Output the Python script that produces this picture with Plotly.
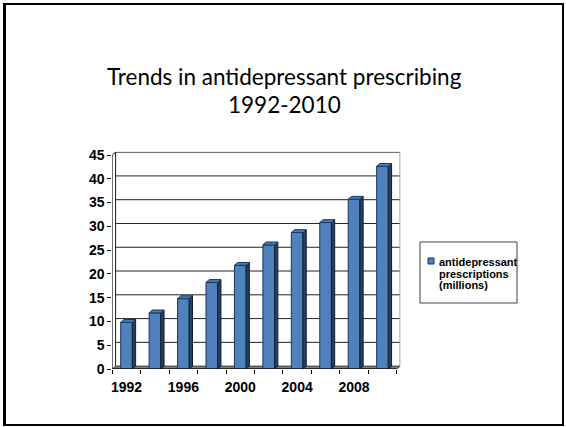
import plotly.graph_objects as go

# Annual antidepressant prescriptions (millions), every other year
years = [1992, 1994, 1996, 1998, 2000, 2002, 2004, 2006, 2008, 2010]
prescriptions = [9.8, 11.8, 14.8, 18.2, 21.8, 26.1, 28.7, 30.8, 35.7, 42.6]
label_years = [1992, 1996, 2000, 2004, 2008]
y_ticks = [0, 5, 10, 15, 20, 25, 30, 35, 40, 45]

series_name = "antidepressant prescriptions (millions)"
title_lines = ["Trends in antidepressant prescribing", "1992-2010"]

W, H = 566, 427
FRONT = "#4F81BD"
SIDE = "#243F63"
EDGE = "#17375E"

BAR_W = 0.82      # bar width in years
DEPTH_X = 0.23    # 3-D depth offset (years)
DEPTH_Y = 0.6     # 3-D depth offset (millions)
x_lo, x_hi = years[0] - 1, years[-1] + 1
y_top = y_ticks[-1]


def px(x, y):
    """pixel position -> paper coordinates"""
    return x / W, 1 - y / H


fig = go.Figure()

# front faces
fig.add_trace(go.Bar(
    x=years, y=prescriptions, width=BAR_W,
    marker=dict(color=FRONT, line=dict(color=EDGE, width=1)),
    showlegend=False, hoverinfo="skip",
))

# side faces and caps of the 3-D bars
side_x, side_y, top_x, top_y = [], [], [], []
for yr, v in zip(years, prescriptions):
    x0, x1 = yr - BAR_W / 2, yr + BAR_W / 2
    side_x += [x1, x1, x1 + DEPTH_X, x1 + DEPTH_X, x1, None]
    side_y += [0, v, v + DEPTH_Y, DEPTH_Y, 0, None]
    top_x += [x0, x1, x1 + DEPTH_X, x0 + DEPTH_X, x0, None]
    top_y += [v, v, v + DEPTH_Y, v + DEPTH_Y, v, None]

fig.add_trace(go.Scatter(
    x=side_x, y=side_y, mode="lines", fill="toself", fillcolor=SIDE,
    line=dict(color="#111E30", width=1), showlegend=False, hoverinfo="skip",
))
fig.add_trace(go.Scatter(
    x=top_x, y=top_y, mode="lines", fill="toself", fillcolor="#4A7AB5",
    line=dict(color=EDGE, width=1), showlegend=False, hoverinfo="skip",
))

shapes = []
# back wall gridlines
for t in y_ticks[1:]:
    shapes.append(dict(type="line", xref="x", yref="y", layer="below",
                       x0=x_lo + DEPTH_X, x1=x_hi + DEPTH_X,
                       y0=t + DEPTH_Y, y1=t + DEPTH_Y,
                       line=dict(color="#222222", width=1)))
# back wall edges
shapes.append(dict(type="line", xref="x", yref="y", layer="below",
                   x0=x_lo + DEPTH_X, x1=x_lo + DEPTH_X, y0=DEPTH_Y, y1=y_top + DEPTH_Y,
                   line=dict(color="#222222", width=1)))
shapes.append(dict(type="line", xref="x", yref="y", layer="below",
                   x0=x_hi + DEPTH_X, x1=x_hi + DEPTH_X, y0=DEPTH_Y, y1=y_top + DEPTH_Y,
                   line=dict(color="#9A9A9A", width=1)))
# floor
shapes.append(dict(type="path", xref="x", yref="y", layer="below",
                   path=f"M {x_lo},0 L {x_hi},0 L {x_hi + DEPTH_X},{DEPTH_Y} "
                        f"L {x_lo + DEPTH_X},{DEPTH_Y} Z",
                   fillcolor="#7F7F7F", line=dict(color="#333333", width=1)))
# front axes
shapes.append(dict(type="line", xref="x", yref="y", layer="above",
                   x0=x_lo, x1=x_lo, y0=0, y1=y_top,
                   line=dict(color="black", width=1)))
shapes.append(dict(type="line", xref="x", yref="y", layer="above",
                   x0=x_lo, x1=x_lo + DEPTH_X, y0=y_top, y1=y_top + DEPTH_Y,
                   line=dict(color="black", width=1)))
shapes.append(dict(type="line", xref="x", yref="y", layer="above",
                   x0=x_lo, x1=x_hi, y0=0, y1=0,
                   line=dict(color="black", width=1)))

# slide frame (heavier on the left)
fx0, fy0 = px(4, 4)
fx1, fy1 = px(563, 425)
shapes.append(dict(type="rect", xref="paper", yref="paper",
                   x0=fx0, y0=fy1, x1=fx1, y1=fy0,
                   line=dict(color="black", width=2)))
ex, _ = px(4.5, 0)
shapes.append(dict(type="line", xref="paper", yref="paper",
                   x0=ex, x1=ex, y0=fy1, y1=fy0,
                   line=dict(color="black", width=3)))

# legend box and swatch
lx0, ly0 = px(420, 242)
lx1, ly1 = px(517, 303)
shapes.append(dict(type="rect", xref="paper", yref="paper",
                   x0=lx0, y0=ly1, x1=lx1, y1=ly0,
                   line=dict(color="#404040", width=1), fillcolor="white"))
sx0, sy0 = px(428, 258)
sx1, sy1 = px(434, 264)
shapes.append(dict(type="rect", xref="paper", yref="paper",
                   x0=sx0, y0=sy1, x1=sx1, y1=sy0,
                   line=dict(color=EDGE, width=1), fillcolor=FRONT))

annotations = []
legend_words = ["antidepressant", "prescriptions", "(millions)"]
for word, yc in zip(legend_words, [261.5, 273.5, 285.0]):
    ax, ay = px(436.5, yc)
    annotations.append(dict(
        x=ax, y=ay, xref="paper", yref="paper", text=word, showarrow=False,
        xanchor="left", yanchor="middle",
        font=dict(family="Liberation Sans, Arial", size=11, color="black", weight="bold"),
    ))

for line, yc in zip(title_lines, [77, 104]):
    ax, ay = px(284, yc)
    annotations.append(dict(
        x=ax, y=ay, xref="paper", yref="paper", text=line, showarrow=False,
        xanchor="center", yanchor="middle",
        font=dict(family="Lato, Carlito, Calibri, sans-serif", size=22.5, color="black"),
    ))

# plot area: front axis at x=112.3 px, floor front at y=369 px
px_per_year = (396.7 - 112.3) / (x_hi - x_lo)
px_per_unit = (369.0 - 155.0) / y_top
x_range = [x_lo, x_hi + DEPTH_X + 0.05]
y_range = [0, y_top + DEPTH_Y + 0.1]
left_px = 112.3
right_px = left_px + (x_range[1] - x_range[0]) * px_per_year
bottom_px = 369.0
top_px = bottom_px - (y_range[1] - y_range[0]) * px_per_unit

tick_font = dict(family="Liberation Sans, Arial", size=14, color="black", weight="bold")
boundaries = [yr - 1 for yr in years] + [years[-1] + 1]

fig.update_layout(
    width=W, height=H,
    margin=dict(l=0, r=0, t=0, b=0, autoexpand=False),
    paper_bgcolor="white", plot_bgcolor="rgba(0,0,0,0)",
    showlegend=False,
    shapes=shapes, annotations=annotations,
    xaxis=dict(
        domain=[left_px / W, right_px / W], range=x_range, automargin=False,
        tickvals=label_years, ticktext=[str(y) for y in label_years],
        ticks="outside", ticklen=4, tickcolor="rgba(0,0,0,0)",
        ticklabelstandoff=1,
        minor=dict(tickvals=boundaries, ticks="outside", ticklen=4,
                   tickcolor="black", showgrid=False),
        showgrid=False, zeroline=False, showline=False,
        tickfont=tick_font, fixedrange=True,
    ),
    yaxis=dict(
        domain=[1 - bottom_px / H, 1 - top_px / H], range=y_range, automargin=False,
        tickvals=y_ticks, ticks="outside", ticklen=4, tickcolor="black",
        showgrid=False, zeroline=False, showline=False,
        tickfont=tick_font, fixedrange=True,
    ),
)

fig.write_html("out.html")
